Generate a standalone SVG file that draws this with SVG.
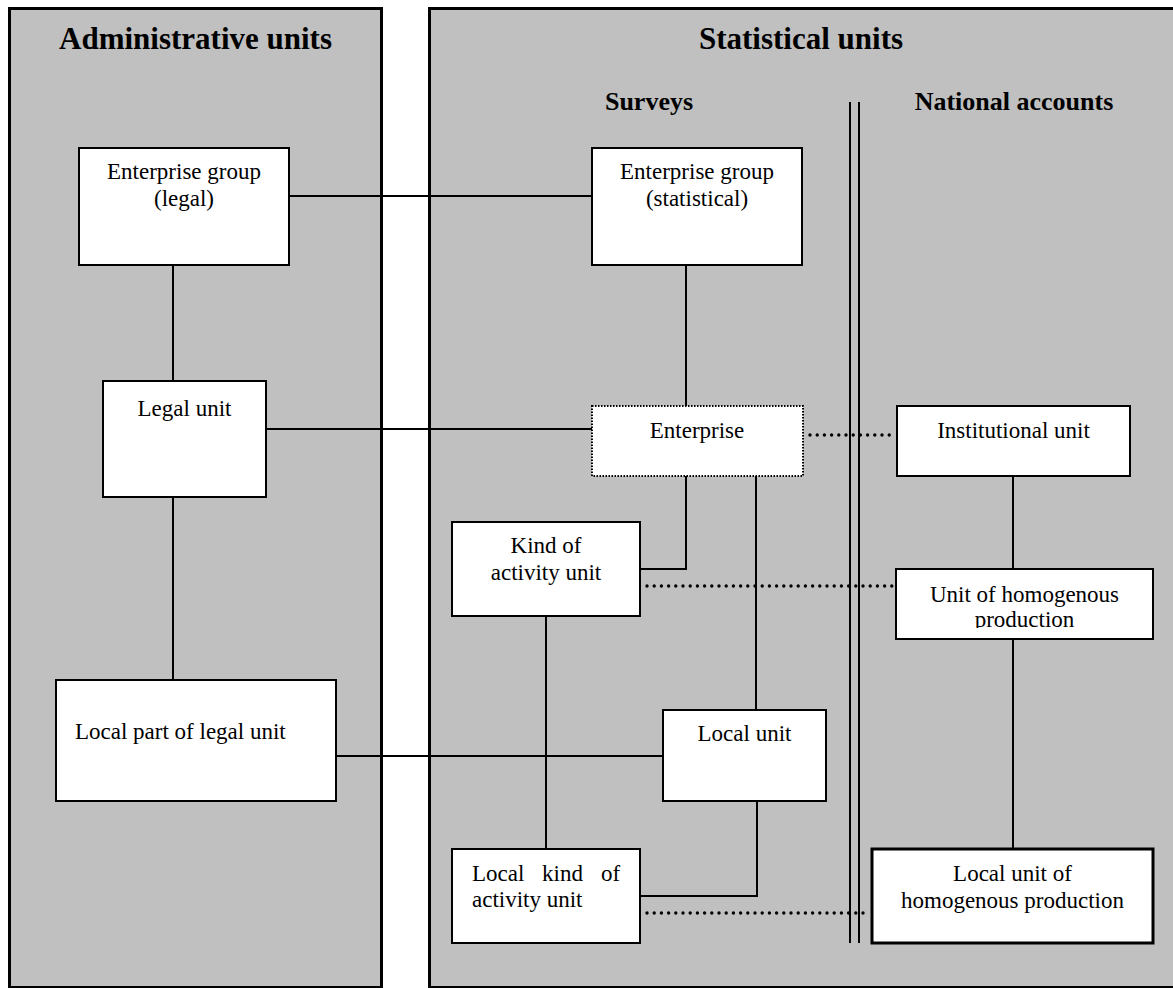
<svg xmlns="http://www.w3.org/2000/svg" width="1173" height="988" viewBox="0 0 1173 988">
<style>
.panel{fill:#c0c0c0;stroke:#000;stroke-width:3}
.box{fill:#fff;stroke:#000;stroke-width:2}
.thick{stroke-width:3}
.dotbox{fill:#fff;stroke:#000;stroke-width:2;stroke-dasharray:1.5 1.5}
.ln{fill:none;stroke:#000;stroke-width:2}
.dot{fill:none;stroke:#000;stroke-width:3.4;stroke-linecap:round;stroke-dasharray:0 7.2}
.h1{font-family:"Liberation Serif","Times New Roman",serif;font-weight:bold;font-size:31px;fill:#000;text-anchor:middle}
.h2{font-family:"Liberation Serif","Times New Roman",serif;font-weight:bold;font-size:26px;fill:#000;text-anchor:middle}
.t{font-family:"Liberation Serif","Times New Roman",serif;font-size:23px;fill:#000;text-anchor:middle}
.tl{font-family:"Liberation Serif","Times New Roman",serif;font-size:23px;fill:#000}
</style>
<defs>
<clipPath id="clipUHP"><rect x="897" y="570" width="255" height="58"/></clipPath>
</defs>
<g id="panel-admin">
<rect class="panel" x="9.5" y="8.5" width="372" height="979"/>
<text class="h1" x="195.5" y="49">Administrative units</text>
</g>
<g id="panel-stat">
<rect class="panel" x="429.5" y="8.5" width="760" height="979"/>
<text class="h1" x="801" y="49">Statistical units</text>
<text class="h2" x="649" y="110">Surveys</text>
<text class="h2" x="1014" y="110">National accounts</text>
<line class="ln" x1="850" y1="102" x2="850" y2="943"/>
<line class="ln" x1="859" y1="102" x2="859" y2="943"/>
</g>
<g id="connectors">
<line class="ln" x1="289" y1="196" x2="592" y2="196"/>
<line class="ln" x1="173" y1="265" x2="173" y2="381"/>
<line class="ln" x1="266" y1="429" x2="592" y2="429"/>
<line class="ln" x1="173" y1="497" x2="173" y2="680"/>
<line class="ln" x1="336" y1="756" x2="663" y2="756"/>
<line class="ln" x1="686" y1="265" x2="686" y2="406"/>
<polyline class="ln" points="686,476 686,569 640,569"/>
<line class="ln" x1="756" y1="476" x2="756" y2="710"/>
<line class="ln" x1="546" y1="616" x2="546" y2="849"/>
<polyline class="ln" points="757,801 757,896 640,896"/>
<line class="ln" x1="1013" y1="476" x2="1013" y2="569"/>
<line class="ln" x1="1013" y1="639" x2="1013" y2="849"/>
<line class="dot" x1="810" y1="435" x2="893" y2="435"/>
<line class="dot" x1="647" y1="586" x2="893" y2="586"/>
<line class="dot" x1="647" y1="913" x2="869" y2="913"/>
</g>
<g id="node-eg-legal">
<rect class="box" x="79" y="148" width="210" height="117"/>
<text class="t" x="184" y="179">Enterprise group</text>
<text class="t" x="184" y="206">(legal)</text>
</g>
<g id="node-legal-unit">
<rect class="box" x="103" y="381" width="163" height="116"/>
<text class="t" x="184.5" y="416">Legal unit</text>
</g>
<g id="node-local-part">
<rect class="box" x="56" y="680" width="280" height="121"/>
<text class="tl" x="75" y="739">Local part of legal unit</text>
</g>
<g id="node-eg-stat">
<rect class="box" x="592" y="148" width="210" height="117"/>
<text class="t" x="697" y="179">Enterprise group</text>
<text class="t" x="697" y="206">(statistical)</text>
</g>
<g id="node-enterprise">
<rect class="dotbox" x="592" y="406" width="211" height="70"/>
<text class="t" x="697" y="438">Enterprise</text>
</g>
<g id="node-kau">
<rect class="box" x="452" y="522" width="188" height="94"/>
<text class="t" x="546" y="553">Kind of</text>
<text class="t" x="546" y="580">activity unit</text>
</g>
<g id="node-local-unit">
<rect class="box" x="663" y="710" width="163" height="91"/>
<text class="t" x="744.5" y="741">Local unit</text>
</g>
<g id="node-lkau">
<rect class="box" x="452" y="849" width="188" height="94"/>
<text class="tl" y="881"><tspan x="472">Local</tspan><tspan x="542">kind</tspan><tspan x="601">of</tspan></text>
<text class="tl" x="472" y="907">activity unit</text>
</g>
<g id="node-institutional">
<rect class="box" x="897" y="406" width="233" height="70"/>
<text class="t" x="1013.5" y="438">Institutional unit</text>
</g>
<g id="node-uhp">
<rect class="box" x="896" y="569" width="257" height="70"/>
<g clip-path="url(#clipUHP)">
<text class="t" x="1024.5" y="602">Unit of homogenous</text>
<text class="t" x="1024.5" y="627">production</text>
</g>
</g>
<g id="node-luhp">
<rect class="box thick" x="872" y="849" width="281" height="94"/>
<text class="t" x="1012.5" y="881">Local unit of</text>
<text class="t" x="1012.5" y="908">homogenous production</text>
</g>
</svg>
